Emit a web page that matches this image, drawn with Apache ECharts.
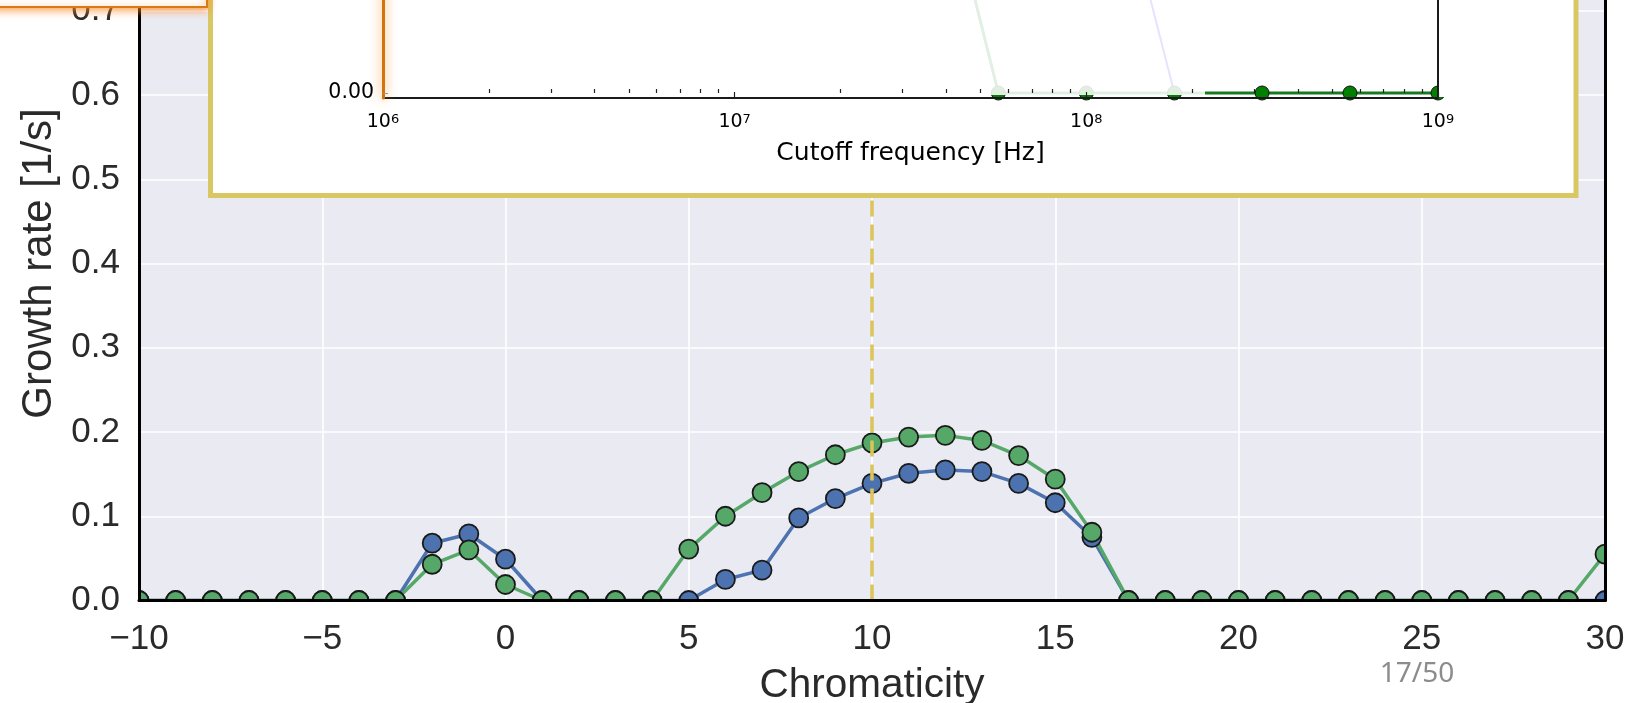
<!DOCTYPE html>
<html>
<head>
<meta charset="utf-8">
<script src="https://cdn.jsdelivr.net/npm/echarts@6/dist/echarts.min.js"></script>
<style>
html,body{margin:0;padding:0;background:#fff;}
#chart{width:1634px;height:703px;}
</style>
</head>
<body>
<div id="chart"></div>
<script>
// ---- Main chart data ----
const chromaticity = [-10,-9,-8,-7,-6,-5,-4,-3,-2,-1,0,1,2,3,4,5,6,7,8,9,10,11,12,13,14,15,16,17,18,19,20,21,22,23,24,25,26,27,28,29,30];
const growthBlue  = [0,0,0,0,0,0,0,0,0.068,0.079,0.049,0,0,0,0,0,0.025,0.036,0.098,0.121,0.139,0.151,0.155,0.153,0.139,0.116,0.075,0,0,0,0,0,0,0,0,0,0,0,0,0,0];
const growthGreen = [0,0,0,0,0,0,0,0,0.043,0.060,0.019,0,0,0,0,0.061,0.100,0.128,0.153,0.173,0.187,0.194,0.196,0.190,0.172,0.144,0.081,0,0,0,0,0,0,0,0,0,0,0,0,0,0.055];
const xTicks = [-10,-5,0,5,10,15,20,25,30];
const yTicks = [0,0.1,0.2,0.3,0.4,0.5,0.6,0.7,0.8];
const markedChromaticity = 10;

// ---- Inset data ----
const insetFreqGreen = [3.16e7, 5.62e7, 1e8, 1.78e8, 3.16e8, 5.62e8, 1e9];
const insetGreen     = [0.176, 0, 0, 0, 0, 0, 0];
const insetFreqBlue  = [1e8, 1.78e8];
const insetBlue      = [0.172, 0];
const insetMajorTicks = [1e6, 1e7, 1e8, 1e9];
const insetMinorTicks = [2e6,3e6,4e6,5e6,6e6,7e6,8e6,9e6,2e7,3e7,4e7,5e7,6e7,7e7,8e7,9e7,2e8,3e8,4e8,5e8,6e8,7e8,8e8,9e8];
const insetYTicks = [0];

const pageLabel = '17/50';

const chart = echarts.init(document.getElementById('chart'));
const mainFont = 'Liberation Sans';
const insetFont = 'DejaVu Sans';
const textCol = '#2a2a2a';

const fmtMinus = v => (v < 0 ? '\u2212' + Math.abs(v) : String(v));

const option = {
  animation: false,
  backgroundColor: '#ffffff',
  grid: [
    {left: 139, right: 29, top: -73.5, bottom: 102.5, show: true, backgroundColor: '#eaeaf2', borderWidth: 0, zlevel: 0, z: 0, containLabel: false, outerBoundsMode: 'none'},
    {left: 383, right: 196, top: -307, bottom: 605, show: false, zlevel: 1, z: 1, containLabel: false, outerBoundsMode: 'none'}
  ],
  xAxis: [
    {gridIndex: 0, type: 'value', min: -10, max: 30, interval: 5, zlevel: 0, z: 1,
     axisLine: {show: false}, axisTick: {show: false}, axisLabel: {show: false},
     splitLine: {show: true, lineStyle: {color: '#ffffff', width: 1.6}}},
    {gridIndex: 0, type: 'value', min: -10, max: 30, interval: 5, position: 'bottom', zlevel: 0, z: 10,
     axisLine: {show: true, onZero: false, lineStyle: {color: '#000', width: 3}},
     axisTick: {show: false}, splitLine: {show: false},
     axisLabel: {show: true, margin: 21, fontFamily: mainFont, fontSize: 35, color: textCol, formatter: fmtMinus},
     name: 'Chromaticity', nameLocation: 'middle', nameGap: 65,
     nameTextStyle: {fontFamily: mainFont, fontSize: 40.5, color: textCol}},
    {gridIndex: 1, type: 'log', logBase: 10, min: 1e6, max: 1e9, position: 'bottom', zlevel: 1, z: 10,
     axisLine: {show: true, onZero: false, lineStyle: {color: '#1a1a1a', width: 2}},
     axisTick: {show: true, inside: true, length: 6, customValues: insetMajorTicks, lineStyle: {color: '#222', width: 1.2}},
     splitLine: {show: false},
     axisLabel: {show: true, margin: 15, customValues: insetMajorTicks, color: '#000',
       formatter: v => '{b|10}{s|' + Math.round(Math.log10(v)) + '}',
       rich: {b: {fontFamily: insetFont, fontSize: 19, color: '#000'},
              s: {fontFamily: insetFont, fontSize: 13, color: '#000', verticalAlign: 'top'}}},
     name: 'Cutoff frequency [Hz]', nameLocation: 'middle', nameGap: 43,
     nameTextStyle: {fontFamily: insetFont, fontSize: 25, color: '#000'}},
    {gridIndex: 1, type: 'log', logBase: 10, min: 1e6, max: 1e9, position: 'bottom', zlevel: 1, z: 10,
     axisLine: {show: false},
     axisTick: {show: true, inside: true, length: 4, customValues: insetMinorTicks, lineStyle: {color: '#222', width: 1.2}},
     axisLabel: {show: false}, splitLine: {show: false}}
  ],
  yAxis: [
    {gridIndex: 0, type: 'value', min: 0, max: 0.8, interval: 0.1, zlevel: 0, z: 1,
     axisLine: {show: false}, axisTick: {show: false}, axisLabel: {show: false},
     splitLine: {show: true, lineStyle: {color: '#ffffff', width: 1.6}}},
    {gridIndex: 0, type: 'value', min: 0, max: 0.8, interval: 0.1, position: 'left', zlevel: 0, z: 10,
     axisLine: {show: true, onZero: false, lineStyle: {color: '#000', width: 3}},
     axisTick: {show: false}, splitLine: {show: false},
     axisLabel: {show: true, margin: 19, fontFamily: mainFont, fontSize: 35, color: textCol, formatter: v => v.toFixed(1)},
     name: 'Growth rate [1/s]', nameLocation: 'middle', nameGap: 74,
     nameTextStyle: {fontFamily: mainFont, fontSize: 42, color: textCol}},
    {gridIndex: 0, type: 'value', min: 0, max: 0.8, interval: 0.1, position: 'right', zlevel: 0, z: 10,
     axisLine: {show: true, onZero: false, lineStyle: {color: '#000', width: 3}},
     axisTick: {show: false}, axisLabel: {show: false}, splitLine: {show: false}},
    {gridIndex: 1, type: 'value', min: -0.0025, max: 0.2, position: 'left', zlevel: 1, z: 12,
     axisLine: {show: true, onZero: false, lineStyle: {color: '#d4740a', width: 3, shadowBlur: 12, shadowColor: 'rgba(255,150,50,1)'}},
     axisTick: {show: true, inside: true, length: 5, customValues: insetYTicks, lineStyle: {color: '#999', width: 1}},
     axisLabel: {show: true, margin: 9, customValues: insetYTicks, fontFamily: insetFont, fontSize: 20.5, color: '#000', formatter: v => v.toFixed(2)},
     splitLine: {show: false}},
    {gridIndex: 1, type: 'value', min: -0.0025, max: 0.2, position: 'right', zlevel: 1, z: 10,
     axisLine: {show: true, onZero: false, lineStyle: {color: '#1a1a1a', width: 2}},
     axisTick: {show: false}, axisLabel: {show: false}, splitLine: {show: false}}
  ],
  series: [
    {type: 'line', xAxisIndex: 0, yAxisIndex: 0, zlevel: 0, z: 3,
     data: chromaticity.map((c, i) => [c, growthBlue[i]]),
     lineStyle: {color: '#4c72b0', width: 3.5}, itemStyle: {color: '#4c72b0', borderColor: '#1a1a1a', borderWidth: 1.8},
     symbol: 'circle', symbolSize: 19, showAllSymbol: true, clip: false},
    {type: 'line', xAxisIndex: 0, yAxisIndex: 0, zlevel: 0, z: 3,
     data: chromaticity.map((c, i) => [c, growthGreen[i]]),
     lineStyle: {color: '#55a868', width: 3.5}, itemStyle: {color: '#55a868', borderColor: '#1a1a1a', borderWidth: 1.8},
     symbol: 'circle', symbolSize: 19, showAllSymbol: true, clip: false},
    {type: 'line', xAxisIndex: 0, yAxisIndex: 0, zlevel: 0, z: 4, data: [],
     markLine: {silent: true, symbol: ['none', 'none'], label: {show: false},
       lineStyle: {color: '#dcc35a', width: 3.5, type: [16, 8]},
       data: [{xAxis: markedChromaticity}]}},
    {type: 'line', xAxisIndex: 2, yAxisIndex: 3, zlevel: 1, z: 3,
     data: insetFreqBlue.map((f, i) => [f, insetBlue[i]]),
     lineStyle: {color: '#2020ff', width: 2}, showSymbol: false, clip: false},
    {type: 'line', xAxisIndex: 2, yAxisIndex: 3, zlevel: 1, z: 4,
     data: insetFreqGreen.map((f, i) => [f, insetGreen[i]]),
     lineStyle: {color: '#167a22', width: 3}, itemStyle: {color: '#007f00', borderColor: '#111', borderWidth: 1},
     symbol: 'circle', symbolSize: 14, showAllSymbol: true, clip: false}
  ],
  graphic: {elements: [
    {type: 'rect', zlevel: 0, z: 5, silent: true, shape: {x: 0, y: -100, width: 139, height: 900}, style: {fill: '#fff'}},
    {type: 'rect', zlevel: 0, z: 5, silent: true, shape: {x: 0, y: 600.5, width: 1634, height: 120}, style: {fill: '#fff'}},
    {type: 'rect', zlevel: 0, z: 5, silent: true, shape: {x: 1605, y: -100, width: 60, height: 900}, style: {fill: '#fff'}},
    {type: 'rect', zlevel: 1, z: 0, silent: true, shape: {x: 210.5, y: -30, width: 1365.5, height: 225.5}, style: {fill: '#fff', stroke: '#d9c764', lineWidth: 5}},
    {type: 'rect', zlevel: 1, z: 6, silent: true, shape: {x: 385, y: -20, width: 820, height: 115}, style: {fill: 'rgba(255,255,255,0.88)'}},
    {type: 'rect', zlevel: 1, z: 6, silent: true, shape: {x: 1439, y: -20, width: 134, height: 117}, style: {fill: '#fff'}},
    {type: 'rect', zlevel: 2, z: 1, silent: true, shape: {x: -10, y: -20, width: 217, height: 27},
     style: {fill: '#fff', stroke: '#dc7a12', lineWidth: 2, shadowBlur: 9, shadowOffsetY: 2, shadowColor: 'rgba(255,140,40,0.85)'}},
    {type: 'text', zlevel: 2, z: 1, silent: true, x: 1417, y: 674,
     style: {text: pageLabel, font: '28px "Noto Sans"', fill: '#8c8c8c', textAlign: 'center', textVerticalAlign: 'middle'}}
  ]}
};
chart.setOption(option);
</script>
</body>
</html>
